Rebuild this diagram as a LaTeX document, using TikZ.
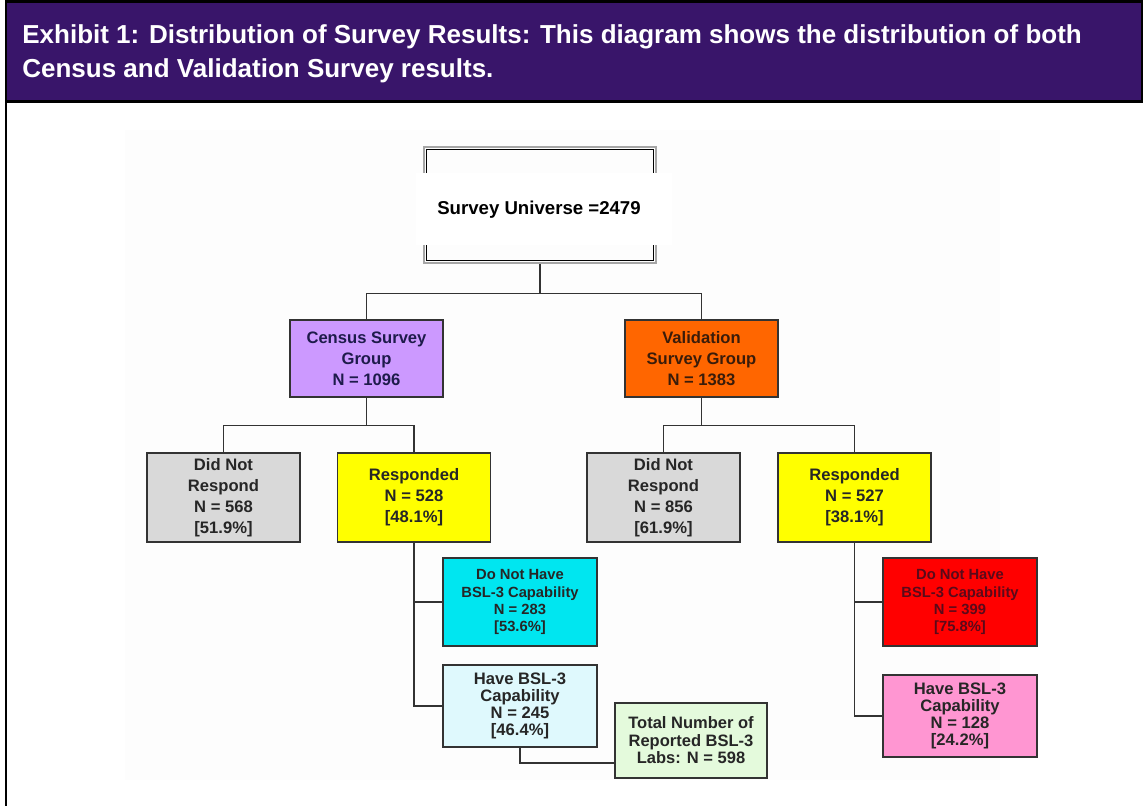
\documentclass[tikz,border=0pt]{standalone}
\usepackage{fontspec}
\setmainfont{Liberation Sans}
\usepackage{tikz}
\usetikzlibrary{positioning, calc}
\definecolor{HeaderPurple}{HTML}{39156A}
\definecolor{CensusLilac}{HTML}{CC99FF}
\definecolor{ValidOrange}{HTML}{FF6600}
\definecolor{NoReplyGrey}{HTML}{D9D9D9}
\definecolor{ReplyYellow}{HTML}{FFFF00}
\definecolor{NoCapCyan}{HTML}{00E6F0}
\definecolor{CapIce}{HTML}{DFF9FD}
\definecolor{NoCapRed}{HTML}{FF0000}
\definecolor{CapPink}{HTML}{FF96D2}
\definecolor{TotalMint}{HTML}{E4FADC}
\definecolor{LineGrey}{HTML}{333333}
\definecolor{CensusInk}{HTML}{1E1B4B}
\definecolor{ValidInk}{HTML}{3A1C0A}
\definecolor{RedInk}{HTML}{5A0A1A}
\definecolor{BoxInk}{HTML}{262626}
\definecolor{Backdrop}{HTML}{FDFDFD}
\tikzset{
  groupbox/.style={rectangle, draw=LineGrey, line width=0.8pt, minimum width=3.06cm, minimum height=1.54cm, inner sep=1pt, text=BoxInk, font=\fontsize{9.45}{11.9}\selectfont\bfseries, align=center},
  replybox/.style={groupbox, minimum height=1.78cm},
  capbox/.style={groupbox, minimum width=3.08cm, minimum height=1.76cm, font=\fontsize{8.4}{9.7}\selectfont\bfseries},
  havebox/.style={groupbox, minimum width=3.08cm, minimum height=1.64cm, font=\fontsize{9.45}{9.7}\selectfont\bfseries},
  titletext/.style={anchor=base west, text=white, inner sep=0pt, font=\fontsize{14.8}{19}\selectfont\bfseries},
  link/.style={draw=LineGrey, line width=0.8pt}
}

\begin{document}
\begin{tikzpicture}[x=0.02cm, y=-0.02cm]
  \useasboundingbox (0,0) rectangle (1143,806);

  % Title bar and frame
  \draw[fill=HeaderPurple, line width=1.6pt] (6,1.5) rectangle (1142,101.5);
  \draw[line width=1.6pt] (6,101) -- (6,806);
  \node[titletext] (title1) at (22,43) {Exhibit 1: Distribution of Survey Results: This diagram shows the distribution of both};
  \node[titletext] (title2) at (22,77) {Census and Validation Survey results.};

  % Backdrop of the chart
  \fill[Backdrop] (125,130) rectangle (1000,780);

  % Survey universe
  \node[draw=gray!70, line width=1.5pt, minimum width=4.64cm, minimum height=2.32cm] (uniframe) at (540,205) {};
  \draw[line width=0.8pt] ([shift={(4,4)}]uniframe.north west) rectangle ([shift={(-4,-4)}]uniframe.south east);
  \fill[white] (416,173) rectangle (672,245);
  \node[font=\fontsize{10.6}{12}\selectfont\bfseries] (uni) at (539,210) {Survey Universe =2479};

  % Survey groups
  \node[groupbox, fill=CensusLilac, text=CensusInk] (census) at (366.5,358.5) {Census Survey\\Group\\N = 1096};
  \node[groupbox, fill=ValidOrange, text=ValidInk] (valid) at (701.5,358.5) {Validation\\Survey Group\\N = 1383};

  % Responses
  \node[replybox, fill=NoReplyGrey] (censusdnr) at (223.5,497.5) {Did Not\\Respond\\N = 568\\{[51.9\%]}};
  \node[replybox, fill=ReplyYellow] (censusresp) at (414,497.5) {Responded\\N = 528\\{[48.1\%]}};
  \node[replybox, fill=NoReplyGrey] (validdnr) at (663.5,497.5) {Did Not\\Respond\\N = 856\\{[61.9\%]}};
  \node[replybox, fill=ReplyYellow] (validresp) at (854.5,497.5) {Responded\\N = 527\\{[38.1\%]}};

  % BSL-3 capability
  \node[capbox, fill=NoCapCyan] (censusnocap) at (520,602) {Do Not Have\\BSL-3 Capability\\N = 283\\{[53.6\%]}};
  \node[havebox, fill=CapIce] (censuscap) at (520,706) {Have BSL-3\\Capability\\N = 245\\{[46.4\%]}};
  \node[havebox, fill=TotalMint, minimum width=3.04cm, minimum height=1.5cm, font=\fontsize{9.4}{10}\selectfont\bfseries] (total) at (691,740.5) {Total Number of\\Reported BSL-3\\Labs: N = 598};
  \node[capbox, fill=NoCapRed, text=RedInk] (validnocap) at (960,602) {Do Not Have\\BSL-3 Capability\\N = 399\\{[75.8\%]}};
  \node[havebox, fill=CapPink] (validcap) at (960,716) {Have BSL-3\\Capability\\N = 128\\{[24.2\%]}};

  % Connectors
  \draw[link] (uniframe.south) -- ++(0,29) coordinate (unifork) -| (census.north);
  \draw[link] (unifork) -| (valid.north);
  \draw[link] (census.south) -- ++(0,28) coordinate (censusfork) -| (censusdnr.north);
  \draw[link] (censusfork) -| (censusresp.north);
  \draw[link] (valid.south) -- ++(0,28) coordinate (validfork) -| (validdnr.north);
  \draw[link] (validfork) -| (validresp.north);
  \draw[link] (censusresp.south) |- (censusnocap.west);
  \draw[link] (censusresp.south) |- (censuscap.west);
  \draw[link] (censuscap.south) |- ($(total.west)+(0,22.5)$);
  \draw[link] (validresp.south) |- (validnocap.west);
  \draw[link] (validresp.south) |- (validcap.west);
\end{tikzpicture}
\end{document}
